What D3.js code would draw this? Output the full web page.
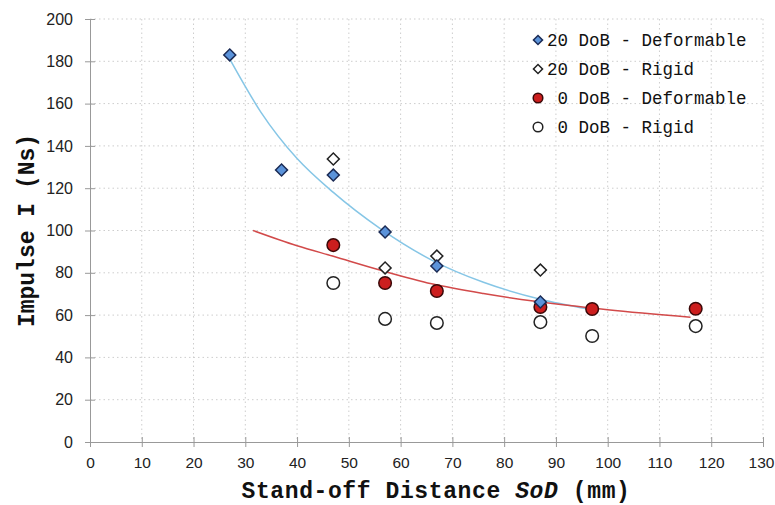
<!DOCTYPE html>
<html>

<head>
  <meta charset="utf-8">
  <title>Impulse vs Stand-off Distance</title>
  <style>
    body {
      margin: 0;
      background: #fff;
    }

    .tick text {
      font-family: "Liberation Sans", Arial, sans-serif;
      font-size: 16px;
      fill: #222;
    }

    .legend text {
      font-family: "Liberation Mono", "Courier New", monospace;
      font-size: 17.5px;
      fill: #111;
      white-space: pre;
    }

    .title {
      font-family: "Liberation Mono", "Courier New", monospace;
      font-weight: bold;
      font-size: 23px;
      fill: #111;
    }
  </style>
</head>

<body>
  <script src="https://cdn.jsdelivr.net/npm/d3@7"></script>
  <script>
    // values
    var sodDef20 = [27, 37, 47, 57, 67, 87];
    var impDef20 = [183, 128.6, 126.2, 99.3, 83.2, 66.2];
    var sodRig20 = [47, 57, 67, 87];
    var impRig20 = [133.8, 82.3, 87.9, 81.3];
    var sodDef0 = [47, 57, 67, 87, 97, 117];
    var impDef0 = [93.1, 75.2, 71.4, 63.8, 62.9, 63];
    var sodRig0 = [47, 57, 67, 87, 97, 117];
    var impRig0 = [75.2, 58.2, 56.3, 56.7, 50.1, 54.8];

    // trend lines, points
    var blueFitX = [27, 33, 40, 47, 56, 66, 76, 87, 96];
    var blueFitY = [181, 156, 134, 118, 101, 86, 75.5, 67.5, 63];
    var redFitX = [31.5, 40, 47, 56, 66, 76, 86, 100, 116];
    var redFitY = [100, 92.8, 87.8, 81.3, 74.8, 70.2, 66.5, 62.5, 59];

    var legendLabels = ["20 DoB - Deformable", "20 DoB - Rigid", " 0 DoB - Deformable", " 0 DoB - Rigid"];

    var margin = { top: 19, right: 12, bottom: 63, left: 90 },
      width = 775 - margin.left - margin.right,
      height = 505 - margin.top - margin.bottom;

    var svg = d3.select("body").append("svg")
      .attr("width", 775)
      .attr("height", 505)
      .append("g")
      .attr("transform", "translate(" + margin.left + "," + margin.top + ")");

    var x = d3.scaleLinear().domain([0, 130]).range([0, width]);
    var y = d3.scaleLinear().domain([0, 200]).range([height, 0]);
    var xTicks = d3.range(0, 131, 10);
    var yTicks = d3.range(0, 201, 20);

    // dotted grid
    svg.append("g").selectAll("line")
      .data(xTicks.slice(1))
      .join("line")
      .attr("x1", d => x(d)).attr("x2", d => x(d))
      .attr("y1", 0).attr("y2", height)
      .attr("stroke", "#cdcdcd").attr("stroke-dasharray", "1.5,3");
    svg.append("g").selectAll("line")
      .data(yTicks.slice(1))
      .join("line")
      .attr("x1", 0).attr("x2", width)
      .attr("y1", d => y(d)).attr("y2", d => y(d))
      .attr("stroke", "#cdcdcd").attr("stroke-dasharray", "1.5,3");

    // axes
    var xAxis = svg.append("g")
      .attr("transform", "translate(0," + height + ")")
      .call(d3.axisBottom(x).tickValues(xTicks).tickSize(5).tickPadding(10));
    xAxis.selectAll(".tick line").attr("y1", -5);
    xAxis.selectAll(".tick text").style("font-size", "15.5px")
      .attr("dx", d => d == 130 ? -2 : 0);
    var yAxis = svg.append("g")
      .call(d3.axisLeft(y).tickValues(yTicks).tickSize(5).tickPadding(12));
    yAxis.selectAll(".tick line").attr("x1", 5);
    svg.selectAll(".domain, .tick line").attr("stroke", "#999");
    svg.selectAll(".tick text").attr("fill", "#222");

    // trend lines
    var line = d3.line()
      .x(d => x(d[0]))
      .y(d => y(d[1]))
      .curve(d3.curveMonotoneX);
    svg.append("path")
      .datum(d3.zip(blueFitX, blueFitY))
      .attr("d", line)
      .attr("fill", "none")
      .attr("stroke", "#86c6e6")
      .attr("stroke-width", 1.5);
    svg.append("path")
      .datum(d3.zip(redFitX, redFitY))
      .attr("d", line)
      .attr("fill", "none")
      .attr("stroke", "#d24a4a")
      .attr("stroke-width", 1.5);

    var series = [
      { xs: sodRig0, ys: impRig0, shape: "circle", fill: "#fff", stroke: "#222" },
      { xs: sodDef0, ys: impDef0, shape: "circle", fill: "#cc1e1e", stroke: "#3a0808" },
      { xs: sodRig20, ys: impRig20, shape: "diamond", fill: "#fff", stroke: "#222" },
      { xs: sodDef20, ys: impDef20, shape: "diamond", fill: "#5b93da", stroke: "#1b2b55" }
    ];

    function drawMarker(g, s, r) {
      if (s.shape == "circle") {
        g.append("circle").attr("r", r);
      } else {
        g.append("path")
          .attr("d", d3.symbol().type(d3.symbolSquare).size(r * r * 1.8))
          .attr("transform", "rotate(45)");
      }
      g.selectAll("circle, path")
        .attr("fill", s.fill)
        .attr("stroke", s.stroke)
        .attr("stroke-width", 1.5);
    }

    series.forEach(function (s) {
      svg.append("g").selectAll("g")
        .data(d3.zip(s.xs, s.ys))
        .join("g")
        .attr("transform", d => "translate(" + x(d[0]) + "," + y(d[1]) + ")")
        .each(function () {
          drawMarker(d3.select(this), s, 6.3);
        });
    });

    // legend
    var legendSeries = [series[3], series[2], series[1], series[0]];
    var legend = svg.append("g")
      .attr("class", "legend")
      .attr("transform", "translate(448,21)")
      .selectAll("g")
      .data(legendSeries)
      .join("g")
      .attr("transform", (d, i) => "translate(0," + (i * 29) + ")");
    legend.each(function (s) {
      drawMarker(d3.select(this), s, 4.8);
    });
    legend.append("text")
      .attr("x", 9)
      .attr("y", 6)
      .text((d, i) => legendLabels[i]);

    // axis titles
    var xt = svg.append("text")
      .attr("class", "title")
      .attr("x", 346)
      .attr("y", height + 56)
      .attr("letter-spacing", "0.6px")
      .attr("text-anchor", "middle");
    xt.append("tspan").text("Stand-off Distance ");
    xt.append("tspan").attr("font-style", "italic").text("SoD");
    xt.append("tspan").text(" (mm)");

    svg.append("text")
      .attr("class", "title")
      .attr("transform", "translate(-56," + (height / 2) + ") rotate(-90)")
      .attr("text-anchor", "middle")
      .text("Impulse I (Ns)");
  </script>
</body>

</html>
